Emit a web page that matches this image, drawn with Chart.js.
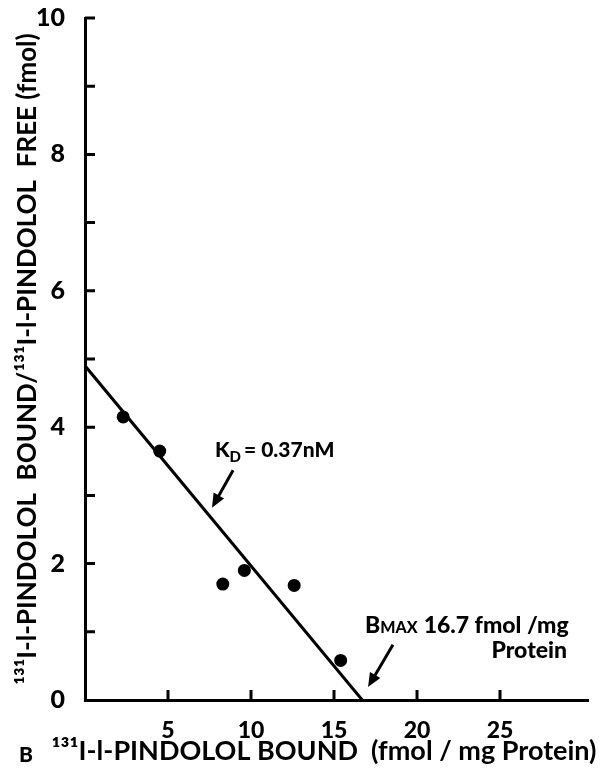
<!DOCTYPE html>
<html>
<head>
<meta charset="utf-8">
<script src="https://cdn.jsdelivr.net/npm/chart.js@4.4.0/dist/chart.umd.min.js"></script>
<style>
  html, body { margin: 0; padding: 0; background: #fff; }
</style>
</head>
<body>
<canvas id="chart" width="613" height="768"></canvas>
<script>
// Scatchard plot values
const boundX = [2.3, 4.5, 8.3, 9.6, 12.6, 15.4]
const ratioY = [4.15, 3.65, 1.7, 1.9, 1.68, 0.58]
const fitX = [0, 16.7]
const fitY = [4.9, 0]
const xTicks = [5, 10, 15, 20, 25]
const yTicks = [0, 1, 2, 3, 4, 5, 6, 7, 8, 9, 10]
const yLabels = ['0', '', '2', '', '4', '', '6', '', '8', '', '10']
const xTitle = '\u00b9\u00b3\u00b9I-l-PINDOLOL BOUND  (fmol / mg Protein)'

const FONT = 'Lato, "DejaVu Sans", sans-serif'

// ticks point inward, plus the x title, arrow labels and panel letter
const extras = {
  id: 'extras',
  afterDraw( chart ) {
    const { ctx, scales: { x, y } } = chart
    const px = ( v ) => x.getPixelForValue( v )
    const py = ( v ) => y.getPixelForValue( v )
    ctx.save()
    ctx.strokeStyle = '#000'
    ctx.fillStyle = '#000'
    ctx.lineWidth = 3
    ctx.lineCap = 'butt'
    ctx.beginPath()
    xTicks.forEach( ( v ) => {
      ctx.moveTo( px( v ), y.bottom )
      ctx.lineTo( px( v ), y.bottom - 10 )
    } )
    yTicks.forEach( ( v ) => {
      if ( v === 0 ) return
      ctx.moveTo( x.left, py( v ) )
      ctx.lineTo( x.left + 10, py( v ) )
    } )
    ctx.stroke()

    function arrow( x1, y1, x2, y2 ) {
      const a = px( x1 ), b = py( y1 ), c = px( x2 ), d = py( y2 )
      const ang = Math.atan2( d - b, c - a )
      ctx.lineWidth = 3
      ctx.beginPath()
      ctx.moveTo( a, b )
      ctx.lineTo( c - 8 * Math.cos( ang ), d - 8 * Math.sin( ang ) )
      ctx.stroke()
      ctx.beginPath()
      ctx.moveTo( c, d )
      ctx.lineTo( c - 14 * Math.cos( ang ) + 6 * Math.sin( ang ), d - 14 * Math.sin( ang ) - 6 * Math.cos( ang ) )
      ctx.lineTo( c - 14 * Math.cos( ang ) - 6 * Math.sin( ang ), d - 14 * Math.sin( ang ) + 6 * Math.cos( ang ) )
      ctx.closePath()
      ctx.fill()
    }
    arrow( 8.92, 3.37, 7.65, 2.82 )
    arrow( 18.55, 0.81, 17.05, 0.19 )

    ctx.textBaseline = 'alphabetic'
    ctx.textAlign = 'left'
    // KD label
    let tx = px( 7.83 ), ty = py( 3.56 )
    ctx.font = '900 21px ' + FONT
    ctx.fillText( 'K', tx, ty )
    tx += ctx.measureText( 'K' ).width
    ctx.font = '900 15px ' + FONT
    ctx.fillText( 'D', tx, ty + 5 )
    tx += ctx.measureText( 'D' ).width + 3
    ctx.font = '900 21px ' + FONT
    ctx.fillText( '= 0.37nM', tx, ty )

    // Bmax label
    tx = px( 16.87 ); ty = py( 0.98 )
    ctx.font = '900 23px ' + FONT
    ctx.fillText( 'B', tx, ty )
    tx += ctx.measureText( 'B' ).width
    ctx.font = '900 16px ' + FONT
    ctx.fillText( 'MAX', tx, ty )
    tx += ctx.measureText( 'MAX' ).width + 6
    ctx.font = '900 23px ' + FONT
    ctx.fillText( '16.7 fmol /mg', tx, ty )
    ctx.textAlign = 'right'
    ctx.fillText( 'Protein', px( 29.04 ), py( 0.62 ) )

    // x axis title, wider than the plot area so drawn here
    ctx.textAlign = 'center'
    ctx.font = 'bold 27px ' + FONT
    ctx.fillText( xTitle, 324, 760 )

    ctx.textAlign = 'left'
    ctx.font = '900 21px ' + FONT
    ctx.fillText( 'B', 19, 762 )
    ctx.restore()
  }
}

const ctx = document.getElementById( 'chart' ).getContext( '2d' )

new Chart( ctx, {
  type: 'scatter',
  data: {
    datasets: [
      {
        data: boundX.map( ( v, i ) => ( { x: v, y: ratioY[i] } ) ),
        pointRadius: 6.5,
        pointBackgroundColor: '#000',
        pointBorderWidth: 0,
      },
      {
        data: fitX.map( ( v, i ) => ( { x: v, y: fitY[i] } ) ),
        showLine: true,
        borderColor: '#000',
        borderWidth: 3,
        pointRadius: 0,
      },
    ],
  },
  options: {
    responsive: false,
    animation: false,
    devicePixelRatio: 1,
    layout: { padding: { top: 18, right: 25, left: 0, bottom: 0 } },
    plugins: { legend: { display: false }, tooltip: { enabled: false } },
    scales: {
      x: {
        type: 'linear',
        min: 0,
        max: 30.3,
        afterBuildTicks: ( s ) => { s.ticks = xTicks.map( ( v ) => ( { value: v } ) ) },
        afterFit: ( s ) => { s.height = 68 },
        grid: { display: false },
        border: { color: '#000', width: 3 },
        ticks: { color: '#000', padding: 9, font: { family: FONT, size: 23, weight: '900' } },
        title: { display: false },
      },
      y: {
        type: 'linear',
        min: 0,
        max: 10,
        afterBuildTicks: ( s ) => { s.ticks = yTicks.map( ( v ) => ( { value: v } ) ) },
        afterFit: ( s ) => { s.width = 85; s.paddingTop = 0; s.paddingBottom = 0 },
        grid: { display: false },
        border: { color: '#000', width: 3 },
        ticks: {
          color: '#000',
          padding: 12,
          font: { family: FONT, size: 25, weight: '900' },
          callback: ( v, i ) => yLabels[i],
        },
        title: {
          display: true,
          text: '\u00b9\u00b3\u00b9I-l-PINDOLOL  BOUND/\u00b9\u00b3\u00b9I-l-PINDOLOL  FREE (fmol)',
          color: '#000',
          padding: { top: 12, bottom: 0 },
          font: { family: FONT, size: 26, weight: 'bold' },
        },
      },
    },
  },
  plugins: [extras],
} )
</script>
</body>
</html>
